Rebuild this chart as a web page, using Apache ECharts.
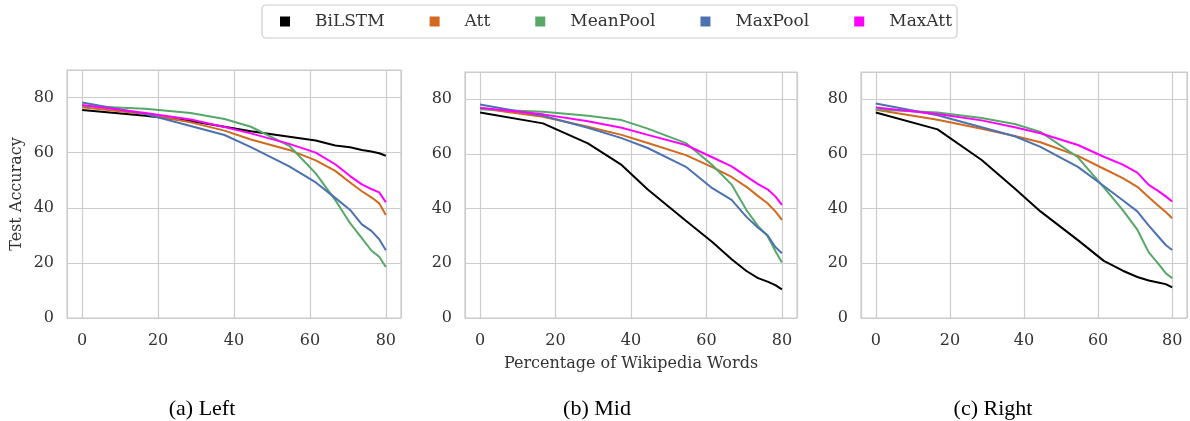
<!DOCTYPE html>
<html>
<head>
<meta charset="utf-8">
<script src="https://cdn.jsdelivr.net/npm/echarts@6/dist/echarts.min.js"></script>
<style>
html,body{margin:0;padding:0;background:#fff;}
#chart{width:1190px;height:421px;}
</style>
</head>
<body>
<div id="chart"></div>
<script>
// ---- data ----
const xPct = [0, 16.67, 28.57, 37.5, 44.44, 54.55, 61.54, 66.67, 70.59, 73.68, 76.19, 78.26, 80];
const models = ['BiLSTM', 'Att', 'MeanPool', 'MaxPool', 'MaxAtt'];
const panelNames = ['(a) Left', '(b) Mid', '(c) Right'];
const xTicks = [0, 20, 40, 60, 80];
const yTicks = [0, 20, 40, 60, 80];

const leftBiLSTM   = [75.5, 73.4, 71.5, 69.4, 67.8, 65.8, 64.4, 62.6, 62.0, 61.0, 60.4, 59.8, 58.9];
const leftAtt      = [76.5, 74.0, 71.0, 68.0, 64.8, 61.0, 57.2, 53.4, 49.2, 46.0, 43.8, 41.6, 37.4];
const leftMeanPool = [76.9, 75.9, 74.4, 72.2, 69.4, 62.5, 52.5, 42.8, 34.4, 29.0, 24.5, 22.2, 18.5];
const leftMaxPool  = [78.2, 74.0, 69.7, 66.4, 62.0, 55.0, 49.2, 43.6, 39.2, 34.0, 31.6, 28.6, 24.6];
const leftMaxAtt   = [77.3, 74.4, 72.0, 69.3, 67.0, 63.2, 60.0, 55.8, 51.5, 48.5, 46.8, 45.6, 42.0];

const midBiLSTM   = [75.2, 71.2, 63.9, 56.0, 47.0, 35.6, 27.8, 21.5, 17.2, 14.6, 13.3, 12.0, 10.5];
const midAtt      = [76.7, 73.6, 70.0, 67.0, 64.0, 59.6, 55.2, 51.6, 48.0, 44.6, 42.0, 39.0, 35.9];
const midMeanPool = [76.4, 75.5, 74.0, 72.4, 69.3, 64.0, 56.0, 48.8, 39.5, 33.6, 30.0, 24.5, 20.3];
const midMaxPool  = [78.1, 74.0, 69.6, 65.8, 62.2, 55.3, 47.5, 43.2, 37.0, 33.0, 30.3, 26.0, 23.7];
const midMaxAtt   = [76.9, 74.5, 72.0, 69.6, 67.0, 63.3, 58.8, 55.5, 51.8, 49.0, 47.1, 44.5, 41.4];

const rightBiLSTM   = [75.2, 69.0, 57.8, 47.4, 39.0, 28.5, 20.9, 17.3, 15.0, 13.7, 13.0, 12.4, 11.2];
const rightAtt      = [76.2, 72.5, 69.2, 66.6, 64.3, 59.3, 54.6, 51.2, 48.0, 44.2, 41.2, 38.8, 36.5];
const rightMeanPool = [76.3, 75.2, 73.2, 71.0, 68.1, 58.8, 47.8, 39.5, 32.3, 24.0, 20.0, 16.4, 14.6];
const rightMaxPool  = [78.5, 74.2, 69.8, 66.5, 62.6, 55.3, 48.3, 43.1, 39.0, 33.8, 29.9, 26.7, 24.9];
const rightMaxAtt   = [77.0, 74.6, 72.3, 69.8, 67.6, 63.3, 59.0, 56.1, 53.2, 48.7, 46.5, 44.5, 42.6];

const panels = [
  [leftBiLSTM, leftAtt, leftMeanPool, leftMaxPool, leftMaxAtt],
  [midBiLSTM, midAtt, midMeanPool, midMaxPool, midMaxAtt],
  [rightBiLSTM, rightAtt, rightMeanPool, rightMaxPool, rightMaxAtt]
];

// ---- styles ----
const colors = ['#000000', '#d2691e', '#55a868', '#4c72b0', '#ff00ff'];
const serif = 'DejaVu Serif';
const gridBoxes = [
  {left: 67, top: 70, width: 334, height: 248},
  {left: 465, top: 72, width: 332, height: 246},
  {left: 861, top: 72, width: 331, height: 246}
];
const captionX = [202, 597, 993];

const chart = echarts.init(document.getElementById('chart'), null, {renderer: 'canvas'});

const grids = gridBoxes.map(g => Object.assign({show: true, borderColor: '#cccccc', borderWidth: 1.2, backgroundColor: '#fff'}, g));

const xAxes = gridBoxes.map((g, i) => ({
  type: 'value', gridIndex: i, min: -4, max: 84,
  name: i === 1 ? 'Percentage of Wikipedia Words' : '',
  nameLocation: 'middle', nameGap: 38,
  nameTextStyle: {fontFamily: serif, fontSize: 16, color: '#333'},
  axisLine: {show: false}, axisTick: {show: false},
  axisLabel: {
    margin: 15, fontFamily: serif, fontSize: 16, color: '#333',
    formatter: v => xTicks.indexOf(v) >= 0 ? String(v) : ''
  },
  splitLine: {show: true, lineStyle: {color: '#cccccc', width: 1.2}}
}));

const yAxes = gridBoxes.map((g, i) => ({
  type: 'value', gridIndex: i, min: 0, max: 90,
  name: i === 0 ? 'Test Accuracy' : '',
  nameLocation: 'middle', nameGap: 42,
  nameTextStyle: {fontFamily: serif, fontSize: 16, color: '#333'},
  axisLine: {show: false}, axisTick: {show: false},
  axisLabel: {
    margin: 13, fontFamily: serif, fontSize: 16, color: '#333',
    formatter: v => yTicks.indexOf(v) >= 0 ? String(v) : ''
  },
  splitLine: {show: true, lineStyle: {color: '#cccccc', width: 1.2}}
}));

const series = [];
panels.forEach((pd, pi) => {
  pd.forEach((vals, mi) => {
    series.push({
      type: 'line', name: models[mi], xAxisIndex: pi, yAxisIndex: pi,
      data: xPct.map((x, k) => [x, vals[k]]),
      showSymbol: false, symbol: 'rect',
      lineStyle: {color: colors[mi], width: 2},
      itemStyle: {color: colors[mi]},
      z: 2 + mi
    });
  });
});

const option = {
  animation: false,
  backgroundColor: '#fff',
  legend: {
    data: models.map(m => ({name: m, icon: 'rect'})),
    left: 262, top: 5,
    orient: 'horizontal',
    itemWidth: 10, itemHeight: 10, itemGap: 45,
    padding: [7, 5, 7, 18],
    borderColor: '#cccccc', borderWidth: 1.2, borderRadius: 4,
    textStyle: {fontFamily: serif, fontSize: 17, color: '#333', padding: [0, 0, 0, 20], lineHeight: 19}
  },
  grid: grids,
  xAxis: xAxes,
  yAxis: yAxes,
  series: series,
  graphic: panelNames.map((t, i) => ({
    type: 'text', x: captionX[i], y: 409,
    style: {text: t, font: '22px "Liberation Serif"', fill: '#000', textAlign: 'center', textVerticalAlign: 'middle'}
  }))
};
chart.setOption(option);
</script>
</body>
</html>
